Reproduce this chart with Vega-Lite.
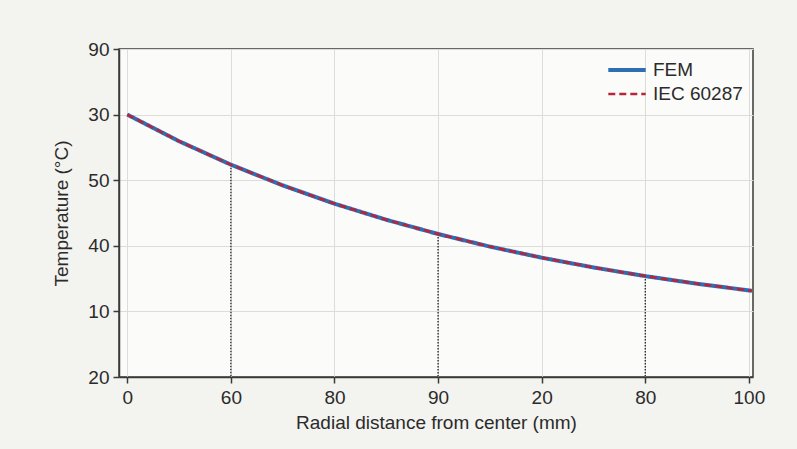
{
  "$schema": "https://vega.github.io/schema/vega-lite/v6.json",
  "width": 634,
  "height": 328,
  "autosize": {"type": "none"},
  "padding": {"left": 119, "top": 49, "right": 44, "bottom": 72},
  "background": "#f3f3ef",
  "config": {
    "font": "Liberation Sans",
    "view": {"fill": "#fbfbf9", "stroke": "#3a3a3a", "strokeWidth": 1.5}
  },
  "datasets": {
    "curves": [
      {"series": "FEM", "x": 0, "y": 4.0},
      {"series": "FEM", "x": 0.5, "y": 3.594},
      {"series": "FEM", "x": 1, "y": 3.237},
      {"series": "FEM", "x": 1.5, "y": 2.921},
      {"series": "FEM", "x": 2, "y": 2.642},
      {"series": "FEM", "x": 2.5, "y": 2.397},
      {"series": "FEM", "x": 3, "y": 2.18},
      {"series": "FEM", "x": 3.5, "y": 1.988},
      {"series": "FEM", "x": 4, "y": 1.819},
      {"series": "FEM", "x": 4.5, "y": 1.67},
      {"series": "FEM", "x": 5, "y": 1.538},
      {"series": "FEM", "x": 5.5, "y": 1.422},
      {"series": "FEM", "x": 6, "y": 1.32},
      {"series": "FEM", "x": 6.03, "y": 1.313},
      {"series": "IEC 60287", "x": 0, "y": 4.0},
      {"series": "IEC 60287", "x": 0.5, "y": 3.594},
      {"series": "IEC 60287", "x": 1, "y": 3.237},
      {"series": "IEC 60287", "x": 1.5, "y": 2.921},
      {"series": "IEC 60287", "x": 2, "y": 2.642},
      {"series": "IEC 60287", "x": 2.5, "y": 2.397},
      {"series": "IEC 60287", "x": 3, "y": 2.18},
      {"series": "IEC 60287", "x": 3.5, "y": 1.988},
      {"series": "IEC 60287", "x": 4, "y": 1.819},
      {"series": "IEC 60287", "x": 4.5, "y": 1.67},
      {"series": "IEC 60287", "x": 5, "y": 1.538},
      {"series": "IEC 60287", "x": 5.5, "y": 1.422},
      {"series": "IEC 60287", "x": 6, "y": 1.32},
      {"series": "IEC 60287", "x": 6.03, "y": 1.313}
    ],
    "drops": [
      {"x": 1, "y": 3.237},
      {"x": 3, "y": 2.18},
      {"x": 5, "y": 1.538}
    ]
  },
  "layer": [
    {
      "data": {"name": "drops"},
      "mark": {"type": "rule", "color": "#222222", "strokeWidth": 1.3, "strokeDash": [1.5, 1.5]},
      "encoding": {
        "x": {
          "field": "x", "type": "quantitative",
          "scale": {"domain": [-0.08, 6.04], "nice": false, "zero": false},
          "axis": {
            "values": [0, 1, 2, 3, 4, 5, 6],
            "labelExpr": "['0','60','80','90','20','80','100'][datum.value]",
            "title": "Radial distance from center (mm)",
            "grid": true,
            "gridColor": "#dcdcd8",
            "gridWidth": 1,
            "domainColor": "#3a3a3a",
            "domainWidth": 1.5,
            "tickColor": "#3a3a3a",
            "tickWidth": 1.5,
            "tickSize": 6,
            "labelFont": "Liberation Sans",
            "titleFont": "Liberation Sans",
            "labelFontSize": 19,
            "titleFontSize": 19,
            "titleFontWeight": "normal",
            "labelColor": "#2b2b2b",
            "titleColor": "#2b2b2b",
            "labelPadding": 5,
            "titlePadding": 6
          }
        },
        "y": {
          "field": "y", "type": "quantitative",
          "scale": {"domain": [0, 5], "nice": false, "zero": false},
          "axis": {
            "values": [0, 1, 2, 3, 4, 5],
            "labelExpr": "['20','10','40','50','30','90'][datum.value]",
            "title": "Temperature (°C)",
            "grid": true,
            "gridColor": "#dcdcd8",
            "gridWidth": 1,
            "domainColor": "#3a3a3a",
            "domainWidth": 1.5,
            "tickColor": "#3a3a3a",
            "tickWidth": 1.5,
            "tickSize": 6,
            "labelFont": "Liberation Sans",
            "titleFont": "Liberation Sans",
            "labelFontSize": 19,
            "titleFontSize": 19,
            "titleFontWeight": "normal",
            "labelColor": "#2b2b2b",
            "titleColor": "#2b2b2b",
            "labelPadding": 4,
            "titlePadding": 16
          }
        },
        "y2": {"datum": 0}
      }
    },
    {
      "data": {"name": "curves"},
      "mark": {"type": "line", "strokeCap": "butt"},
      "encoding": {
        "x": {"field": "x", "type": "quantitative"},
        "y": {"field": "y", "type": "quantitative"},
        "color": {
          "field": "series", "type": "nominal",
          "scale": {"domain": ["FEM", "IEC 60287"], "range": ["#2f6db5", "#b8253a"]},
          "legend": {
            "title": null,
            "orient": "none",
            "legendX": 487,
            "legendY": 10,
            "symbolType": "stroke",
            "symbolSize": 1400,
            "symbolStrokeWidth": 3,
            "labelFontSize": 19,
            "labelFont": "Liberation Sans",
            "labelColor": "#2b2b2b",
            "clipHeight": 22,
            "rowPadding": 2,
            "labelOffset": 5
          }
        },
        "strokeDash": {
          "field": "series", "type": "nominal",
          "scale": {"domain": ["FEM", "IEC 60287"], "range": [[1, 0], [7, 4]]},
          "legend": null
        },
        "strokeWidth": {
          "field": "series", "type": "nominal",
          "scale": {"domain": ["FEM", "IEC 60287"], "range": [4, 2.5]},
          "legend": null
        },
        "order": {"field": "x"}
      }
    }
  ]
}
